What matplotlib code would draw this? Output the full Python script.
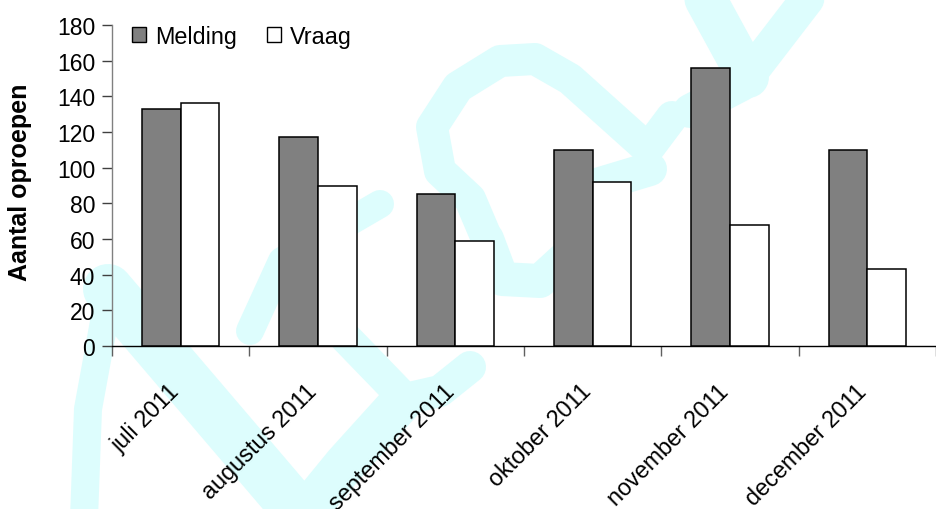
import matplotlib
matplotlib.use("Agg")
import matplotlib.pyplot as plt
import matplotlib.transforms as mtransforms
from matplotlib.path import Path
from matplotlib.patches import PathPatch, Patch
import numpy as np

plt.rcParams['font.family'] = ['Liberation Sans', 'DejaVu Sans']

# Data
months = ["juli 2011", "augustus 2011", "september 2011",
          "oktober 2011", "november 2011", "december 2011"]
melding = [133, 117, 85, 110, 156, 110]
vraag = [136, 90, 59, 92, 68, 43]
series_names = ["Melding", "Vraag"]
y_ticks = [0, 20, 40, 60, 80, 100, 120, 140, 160, 180]

W, H, DPI = 936, 510, 100
fig = plt.figure(figsize=(W / DPI, H / DPI), dpi=DPI)

# Pale cyan watermark strokes behind the chart (pixel coordinates)
bg = fig.add_axes([0, 0, 1, 1], zorder=0)
bg.set_xlim(0, W)
bg.set_ylim(H, 0)
bg.axis("off")
wm_color = "#ddfdfd"
strokes = [
    ([(84, 520), (88, 410), (110, 290)], 28),
    ([(108, 290), (300, 515)], 50),
    ([(250, 332), (282, 262), (380, 205)], 28),
    ([(345, 338), (405, 400), (440, 392), (470, 368)], 32),
    ([(402, 402), (345, 465), (300, 520)], 42),
    ([(487, 240), (470, 200), (440, 172), (432, 128), (458, 88),
      (500, 62), (535, 60), (570, 80), (648, 150), (672, 118)], 32),
    ([(487, 240), (502, 280), (540, 282), (575, 250), (600, 185),
      (650, 170)], 34),
    ([(700, -10), (748, 78)], 42),
    ([(815, -10), (742, 85), (690, 112)], 34),
]
for pts, width in strokes:
    codes = [Path.MOVETO] + [Path.LINETO] * (len(pts) - 1)
    bg.add_patch(PathPatch(Path(pts, codes), facecolor="none",
                           edgecolor=wm_color, lw=width * 72 / DPI,
                           capstyle="round", joinstyle="round"))

# Main chart
left_px, right_px, top_px, bottom_px = 112, 936, 26, 347
ax = fig.add_axes([left_px / W, (H - bottom_px) / H,
                   (right_px - left_px) / W, (bottom_px - top_px) / H],
                  zorder=1)
ax.set_facecolor("none")

cat_px = 139.0
x = np.arange(len(months))
bw = 39.3 / cat_px
ax.bar(x - bw / 2, melding, bw, color="#808080", edgecolor="black",
       linewidth=1.1, label=series_names[0], zorder=3)
ax.bar(x + bw / 2, vraag, bw, color="white", edgecolor="black",
       linewidth=1.1, label=series_names[1], zorder=3)

ax.set_xlim(-0.5, -0.5 + (right_px - left_px) / cat_px)
ax.set_ylim(0, 180)
ax.set_yticks(y_ticks)

for s in ("top", "right"):
    ax.spines[s].set_visible(False)
ax.spines["left"].set_color("#808080")
ax.spines["bottom"].set_color("black")
ax.spines["left"].set_linewidth(1.0)
ax.spines["bottom"].set_linewidth(1.0)

ax.set_xticks(x)
ax.set_xticklabels(months, rotation=45, ha="right", va="baseline",
                   rotation_mode="anchor", fontsize=16.8)
shift = mtransforms.ScaledTranslation(-6 / DPI, 11 / DPI, fig.dpi_scale_trans)
for lbl in ax.get_xticklabels():
    lbl.set_transform(lbl.get_transform() + shift)
ax.set_xticks(np.arange(-0.5, len(months), 1.0), minor=True)
ax.tick_params(axis="x", which="major", length=0, pad=33)
ax.tick_params(axis="x", which="minor", length=7, width=1, color="#606060",
               direction="out")
ax.tick_params(axis="y", length=7, width=1, color="#404040", direction="out",
               labelsize=16.5, pad=5)

ax.set_ylabel("Aantal oproepen", fontsize=18, fontweight="bold")
ax.yaxis.set_label_coords(-0.097, 0.514)

handles = [Patch(facecolor="#808080", edgecolor="black", linewidth=1.0),
           Patch(facecolor="white", edgecolor="black", linewidth=1.0)]
ax.legend(handles, series_names, loc="upper left",
          bbox_to_anchor=(20 / 824, 1.0), ncol=2, frameon=False,
          fontsize=16.8, handlelength=0.62, handleheight=0.62,
          handletextpad=0.35, columnspacing=1.3, borderpad=0,
          borderaxespad=0)

fig.savefig("out.png", dpi=DPI)
